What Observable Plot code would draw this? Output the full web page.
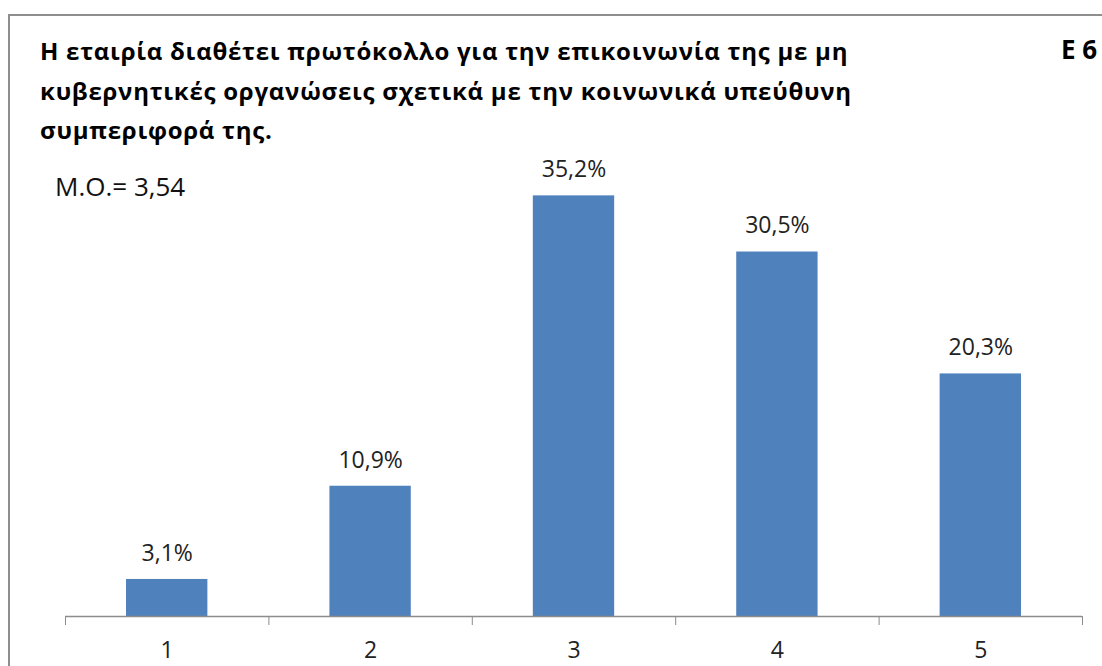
<!DOCTYPE html>
<html>
<head>
<meta charset="utf-8">
<script src="https://cdn.jsdelivr.net/npm/d3@7"></script>
<script src="https://cdn.jsdelivr.net/npm/@observablehq/plot@0.6"></script>
<style>
  html, body { margin: 0; padding: 0; background: #fff; overflow: hidden; width: 1102px; height: 666px; }
  #wrap { position: relative; width: 1102px; height: 666px; overflow: hidden; font-family: "Open Sans", "Noto Sans", sans-serif; }
  #frame { position: absolute; left: 8px; top: 14px; width: 1200px; height: 800px; border: 2px solid #8e8e8e; box-sizing: border-box; }
  #title { position: absolute; left: 40px; top: 31px; font-size: 24px; letter-spacing: 0.75px; font-weight: bold; line-height: 39.5px; color: #000; white-space: nowrap; }
  #tag { position: absolute; left: 1061px; top: 31px; font-size: 26px; font-weight: bold; color: #000; line-height: normal; }
  #mean { position: absolute; left: 55px; top: 168px; font-size: 26px; color: #111; line-height: normal; }
  #chart { position: absolute; left: 0; top: 0; }
</style>
</head>
<body>
<div id="wrap">
  <div id="frame"></div>
  <div id="chart"></div>
  <div id="title">Η εταιρία διαθέτει πρωτόκολλο για την επικοινωνία της με μη<br>κυβερνητικές οργανώσεις σχετικά με την κοινωνικά υπεύθυνη<br>συμπεριφορά της.</div>
  <div id="tag">E 6</div>
  <div id="mean">M.O.= 3,54</div>
</div>
<script>
const categories = [1, 2, 3, 4, 5];
const percents = [3.1, 10.9, 35.2, 30.5, 20.3];
const valueLabels = ["3,1%", "10,9%", "35,2%", "30,5%", "20,3%"];
const boundaries = [0.5, 1.5, 2.5, 3.5, 4.5, 5.5];

const data = categories.map((c, i) => ({cat: c, pct: percents[i], label: valueLabels[i]}));
const half = 0.2;

const chart = Plot.plot({
  width: 1102,
  height: 666,
  marginLeft: 65,
  marginRight: 20,
  marginTop: 138,
  marginBottom: 50,
  style: {fontFamily: "'Open Sans', 'Noto Sans', sans-serif", background: "transparent"},
  x: {domain: [0.5, 5.5], axis: null},
  y: {domain: [0, 40], axis: null},
  marks: [
    Plot.rect(data, {x1: d => d.cat - half, x2: d => d.cat + half, y1: 0, y2: "pct", fill: "#4f81bd"}),
    Plot.ruleY([0], {stroke: "#8c8c8c", strokeWidth: 1.3}),
    Plot.axisX({ticks: boundaries, tickSize: 9, tickFormat: () => "", label: null, stroke: "#8c8c8c", strokeOpacity: 1}),
    Plot.axisX({ticks: categories, tickSize: 0, tickPadding: 25, tickFormat: d => String(d), label: null, fontSize: 23, fill: "#222"}),
    Plot.text(data, {x: "cat", y: "pct", text: "label", dy: -26, fontSize: 23, fill: "#222"})
  ]
});
document.getElementById("chart").appendChild(chart);
</script>
</body>
</html>
